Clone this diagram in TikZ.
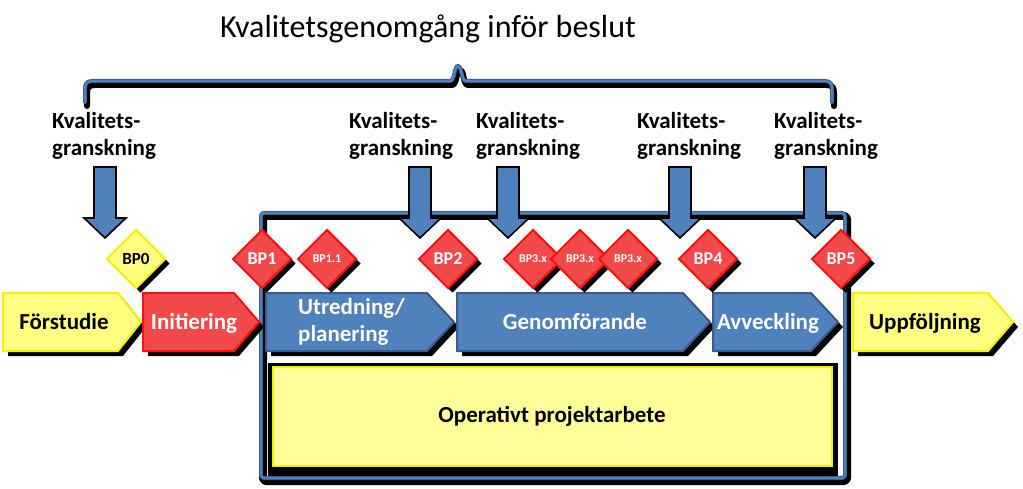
\documentclass[tikz,border=0pt]{standalone}
\usepackage{fontspec}
\setmainfont{Carlito}
\usetikzlibrary{shapes.geometric,shadows}
\definecolor{pblue}{HTML}{4F81BD}
\definecolor{pbluedk}{HTML}{385D8A}
\definecolor{predf}{HTML}{F24A4A}
\definecolor{predd}{HTML}{FF1010}
\definecolor{pyelf}{HTML}{FFFF80}
\definecolor{pyeld}{HTML}{F0F000}
\definecolor{popf}{HTML}{FFFF99}
\newcommand\chevron[5]{%
  \fill[black,xshift=5pt,yshift=-5pt] (#1,293) -- (#2,293) -- (#3,322) -- (#2,351) -- (#1,351) -- cycle;
  \draw[line width=2pt,fill=#4,draw=#5,line join=miter] (#1,293) -- (#2,293) -- (#3,322) -- (#2,351) -- (#1,351) -- cycle;}
\newcommand\qarrow[1]{%
  \draw[fill=pblue,draw=black,line width=1.6pt,line join=miter]
   (#1-11,167) -- (#1+11,167) -- (#1+11,218) -- (#1+21,218) -- (#1,238) -- (#1-21,218) -- (#1-11,218) -- cycle;}
\begin{document}
\begin{tikzpicture}[x=1pt,y=-1pt,
  lab/.style={font=\fontsize{23}{27}\selectfont\bfseries,align=left,inner sep=0pt,anchor=west},
  ctext/.style={font=\fontsize{23}{27}\selectfont\bfseries,inner sep=0pt,anchor=base},
  bpd/.style={diamond,aspect=1,minimum width=59pt,minimum height=59pt,inner sep=0pt,
     line width=2pt,draw=predd,fill=predf,text=white,font=\fontsize{18}{18}\selectfont\bfseries,
     drop shadow={fill=black,opacity=1,shadow xshift=4.5pt,shadow yshift=-4.5pt}},
  bpsmall/.style={font=\fontsize{12}{12}\selectfont\bfseries},
  shadowline/.style={line width=8pt,draw=black,line cap=round,line join=round},
  blueline/.style={line width=4pt,draw=pbluedk,line cap=round,line join=round},
  blueinner/.style={line width=2.2pt,draw=pblue,line cap=round,line join=round}]
\useasboundingbox (0,0) rectangle (1023,489);

% title
\node[font=\fontsize{32}{36}\selectfont,anchor=base,inner sep=0pt] (title) at (428,38) {Kvalitetsgenomgång inför beslut};

% brace
\def\bracepath{(85,102) -- (85,89) .. controls (85,83) and (87,81) .. (93,81) -- (450,81)
  .. controls (455,81) and (454,66) .. (458,66) .. controls (462,66) and (461,81) .. (466,81)
  -- (824,81) .. controls (830,81) and (832,83) .. (832,89) -- (832,102)}
\draw[shadowline,line width=6pt,xshift=2pt,yshift=-4pt] \bracepath;
\draw[blueline] \bracepath;
\draw[blueinner] \bracepath;

% bracket box
\draw[shadowline,rounded corners=3pt] (263,216) rectangle (847,481);
\draw[blueline,rounded corners=3pt] (261,213) rectangle (845,478);
\draw[blueinner,rounded corners=3pt] (261,213) rectangle (845,478);

% operative box
\fill[black] (268,363) rectangle (838,476);
\draw[fill=popf,draw=pyeld,line width=2pt] (273,367) rectangle (832,466);
\node[ctext] (op) at (552,422) {Operativt projektarbete};

% chevrons
\chevron{3}{118}{141}{pyelf}{pyeld}
\chevron{143}{234}{259}{predf}{predd}
\chevron{266}{427}{454}{pblue}{pbluedk}
\chevron{457}{683}{710}{pblue}{pbluedk}
\chevron{713}{811}{838}{pblue}{pbluedk}
\chevron{853}{988}{1013}{pyelf}{pyeld}
\node[ctext] (forstudie) at (64,329) {Förstudie};
\node[ctext,text=white] (initiering) at (194,329) {Initiering};
\node[ctext,text=white,align=left,anchor=west] (utredning) at (298,322) {Utredning/\\planering};
\node[ctext,text=white] (genomforande) at (575,329) {Genomförande};
\node[ctext,text=white] (avveckling) at (768,329) {Avveckling};
\node[ctext] (uppfoljning) at (925,329) {Uppföljning};

% decision points
\node[bpd,fill=pyelf,draw=pyeld,text=black,font=\fontsize{17}{17}\selectfont\bfseries] (bp0) at (136,259) {BP0};
\node[bpd] (bp1) at (262,259) {BP1};
\node[bpd,bpsmall] (bp11) at (327,259) {BP1.1};
\node[bpd] (bp2) at (448,259) {BP2};
\node[bpd,bpsmall] (bp3a) at (533,259) {BP3.x};
\node[bpd,bpsmall] (bp3b) at (580,259) {BP3.x};
\node[bpd,bpsmall] (bp3c) at (628,259) {BP3.x};
\node[bpd] (bp4) at (708,259) {BP4};
\node[bpd] (bp5) at (841,259) {BP5};

% review arrows
\qarrow{105}
\qarrow{420}
\qarrow{508}
\qarrow{680}
\qarrow{815}

% review labels
\node[lab] (kg1) at (52,136) {Kvalitets-\\granskning};
\node[lab] (kg2) at (349,136) {Kvalitets-\\granskning};
\node[lab] (kg3) at (476,136) {Kvalitets-\\granskning};
\node[lab] (kg4) at (637,136) {Kvalitets-\\granskning};
\node[lab] (kg5) at (774,136) {Kvalitets-\\granskning};
\end{tikzpicture}
\end{document}
